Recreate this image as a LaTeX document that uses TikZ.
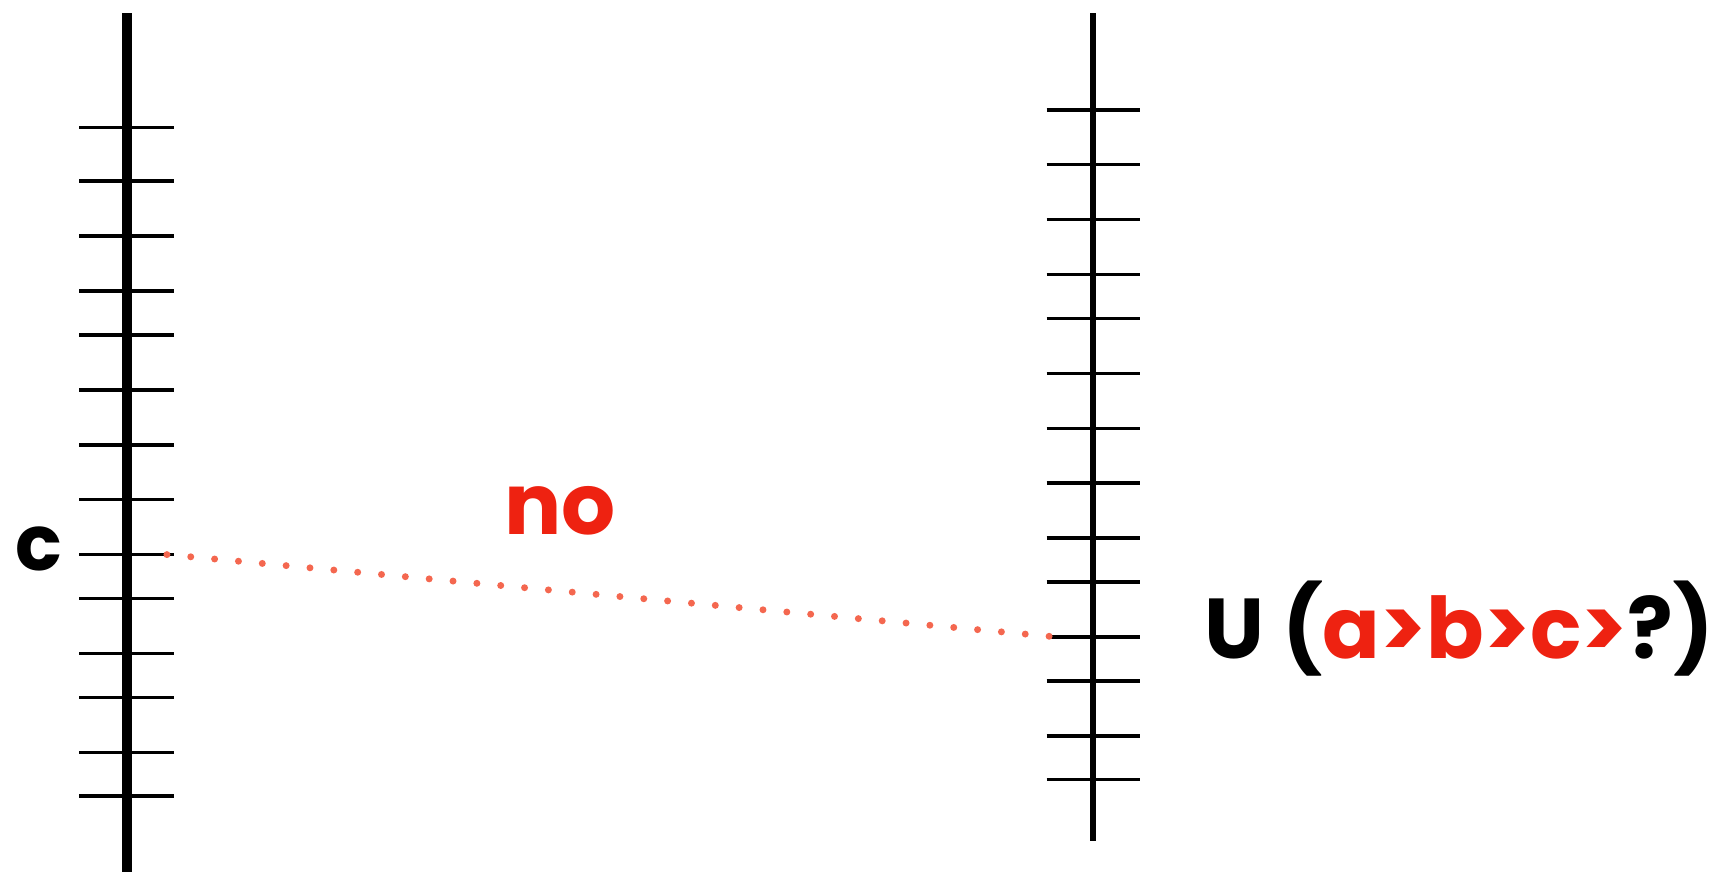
\documentclass[tikz,border=0pt]{standalone}
\usepackage{fontspec}
\setmainfont{Poppins}
\usetikzlibrary{positioning}
\definecolor{prefred}{HTML}{EE2211}
\definecolor{dotred}{HTML}{F4674F}

\begin{document}
\begin{tikzpicture}[
  x=0.01cm, y=-0.01cm,
  axisline/.style={line width=2.6pt},
  thinaxis/.style={line width=1.5pt},
  tickline/.style={line width=0.9pt},
  tag/.style={font=\fontsize{22}{26}\selectfont\bfseries, inner sep=0pt},
  dotline/.style={draw=dotred, line width=1.8pt, line cap=round, dash pattern=on 0pt off 6.2pt}
]
\useasboundingbox (0,0) rectangle (1568,794);
% left scale
\draw[axisline] (116,12) -- (116,794);
\foreach \y [count=\i] in {116,165,215,265,305,355,405,455,505,545,595,635,685,725}
  \draw[tickline] (72,\y) coordinate (lw\i) -- (158,\y) coordinate (le\i);
% right scale
\draw[thinaxis] (995,12) -- (995,766);
\foreach \y [count=\i] in {100,150,200,250,290,340,390,440,490,530,580,620,670,710}
  \draw[tickline] (953,\y) coordinate (rw\i) -- (1038,\y) coordinate (re\i);
\node[tag, font=\fontsize{20}{24}\selectfont\bfseries] (cname) at (35,500) {c};
\node[tag, text=prefred] (nolabel) at (510,465) {no};
\node[tag, anchor=west] (pref) at (1096,572) {U (\textcolor{prefred}{a>b>c>}?)};
\draw[dotline] ([xshift=-0.06cm]le9) -- ([xshift=0.09cm]rw11);
\end{tikzpicture}
\end{document}
